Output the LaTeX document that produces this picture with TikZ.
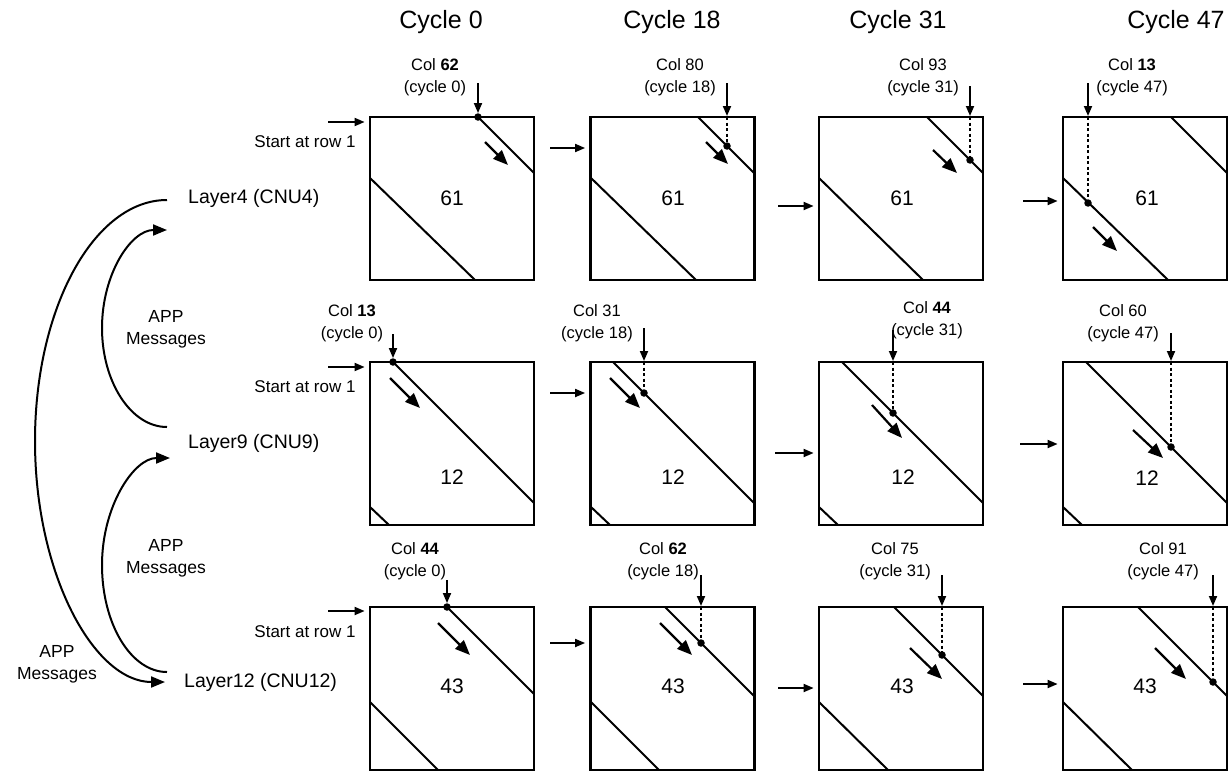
\documentclass[tikz,border=0pt]{standalone}
\usepackage{fontspec}
\setmainfont{Liberation Sans}
\usetikzlibrary{arrows.meta,calc}
\newcommand{\fsTitle}{\fontsize{25}{30}\selectfont}
\newcommand{\fsCol}{\fontsize{16.5}{22}\selectfont}
\newcommand{\fsNum}{\fontsize{21}{25}\selectfont}
\newcommand{\fsLay}{\fontsize{19.5}{23}\selectfont}
\newcommand{\fsApp}{\fontsize{17.5}{22}\selectfont}
\newcommand{\fsStart}{\fontsize{17}{20}\selectfont}
\begin{document}
\begin{tikzpicture}[x=1pt,y=-1pt,
 box/.style={draw,line width=2.8pt,minimum width=164pt,minimum height=163pt,inner sep=0pt},
 diag/.style={line width=2pt},
 harrow/.style={line width=1.8pt,-{Triangle[length=10pt,width=8pt]}},
 varrow/.style={line width=1.8pt,-{Triangle[length=10pt,width=8pt]}},
 inarrow/.style={line width=2.2pt,-{Triangle[length=15pt,width=12pt]}},
 dotn/.style={circle,fill,inner sep=0pt,minimum size=7.5pt},
 dashl/.style={line width=1.6pt,dash pattern=on 3pt off 2.5pt},
 txt/.style={inner sep=0pt,align=center},
 arcarrow/.style={line width=2pt,-{Triangle[length=14pt,width=11pt]}}]
\fill[white] (0,0) rectangle (1230,774);
\useasboundingbox (0,0) rectangle (1230,774);

% titles
\node[txt,font=\fsTitle] (C0) at (441,22) {Cycle 0};
\node[txt,font=\fsTitle] (C18) at (672,22) {Cycle 18};
\node[txt,font=\fsTitle] (C31) at (898,22) {Cycle 31};
\node[txt,font=\fsTitle] (C47) at (1176,22) {Cycle 47};

% boxes
\node[box] (B11) at (452,198.5) {};
\node[box] (B12) at (672.5,198.5) {};
\node[box] (B13) at (901,198.5) {};
\node[box] (B14) at (1145,198.5) {};
\node[box] (B21) at (452,443.5) {};
\node[box] (B22) at (672.5,443.5) {};
\node[box] (B23) at (901,443.5) {};
\node[box] (B24) at (1145,443.5) {};
\node[box] (B31) at (452,688.5) {};
\node[box] (B32) at (672.5,688.5) {};
\node[box] (B33) at (901,688.5) {};
\node[box] (B34) at (1145,688.5) {};

% numbers
\node[txt,font=\fsNum] (N11) at (452,198) {61};
\node[txt,font=\fsNum] (N12) at (673,198) {61};
\node[txt,font=\fsNum] (N13) at (902,198) {61};
\node[txt,font=\fsNum] (N14) at (1147,198) {61};
\node[txt,font=\fsNum] (N21) at (452,477) {12};
\node[txt,font=\fsNum] (N22) at (673,477) {12};
\node[txt,font=\fsNum] (N23) at (903,477) {12};
\node[txt,font=\fsNum] (N24) at (1147,478) {12};
\node[txt,font=\fsNum] (N31) at (452,686) {43};
\node[txt,font=\fsNum] (N32) at (673,686) {43};
\node[txt,font=\fsNum] (N33) at (902,686) {43};
\node[txt,font=\fsNum] (N34) at (1145,686) {43};

% ---------- row 1 ----------
\draw[diag] (478,117) -- (534,173);
\draw[diag] (370,178) -- (475,280);
\draw[diag] (698,117) -- (754,173);
\draw[diag] (591,178) -- (696,280);
\draw[diag] (927,117) -- (983,173);
\draw[diag] (819,178) -- (923,280);
\draw[diag] (1171,117) -- (1227,173);
\draw[diag] (1063,178) -- (1168,280);

\node[txt,font=\fsCol] (L11) at (435,77) {Col \textbf{62}\\(cycle 0)};
\node[txt,font=\fsCol] (L12) at (680,77) {Col 80\\(cycle 18)};
\node[txt,font=\fsCol] (L13) at (923,77) {Col 93\\(cycle 31)};
\node[txt,font=\fsCol] (L14) at (1132,77) {Col \textbf{13}\\(cycle 47)};

\node[dotn] (D11) at (478,117) {};
\node[dotn] (D12) at (727,146) {};
\node[dotn] (D13) at (970,160) {};
\node[dotn] (D14) at (1088,203) {};
\coordinate (T11) at (478,83);
\coordinate (T12) at (727,83);
\coordinate (T13) at (970,86);
\coordinate (T14) at (1088,83);
\draw[varrow] (T11) -- (D11.north);
\draw[varrow] (T12) -- (727,116);
\draw[dashl] (727,117) -- (D12);
\draw[varrow] (T13) -- (970,116);
\draw[dashl] (970,117) -- (D13);
\draw[varrow] (T14) -- (1088,116);
\draw[dashl] (1088,117) -- (D14);

\draw[inarrow] (485,142) -- (508,165);
\draw[inarrow] (706,142) -- (728,164);
\draw[inarrow] (933,150) -- (957,173);
\draw[inarrow] (1093,227) -- (1117,251);

\coordinate (H11) at (328,122);
\coordinate (H12) at (550,148);
\coordinate (H13) at (778,206);
\coordinate (H14) at (1023,201);
\draw[harrow] (H11) -- ([xshift=-4pt]H11 -| B11.west);
\draw[harrow] (H12) -- ([xshift=-4pt]H12 -| B12.west);
\draw[harrow] (H13) -- ([xshift=-4pt]H13 -| B13.west);
\draw[harrow] (H14) -- ([xshift=-4pt]H14 -| B14.west);
\node[txt,font=\fsStart] (S1) at (305,142) {Start at row 1};

% ---------- row 2 ----------
\draw[diag] (393,362) -- (534,503);
\draw[diag] (370,507) -- (389,525);
\draw[diag] (613,362) -- (754,503);
\draw[diag] (591,507) -- (610,525);
\draw[diag] (842,362) -- (983,503);
\draw[diag] (819,507) -- (838,525);
\draw[diag] (1086,362) -- (1227,503);
\draw[diag] (1063,507) -- (1082,525);

\node[txt,font=\fsCol] (L21) at (352,323) {Col \textbf{13}\\(cycle 0)};
\node[txt,font=\fsCol] (L22) at (597,323) {Col 31\\(cycle 18)};
\node[txt,font=\fsCol] (L23) at (927,320) {Col \textbf{44}\\(cycle 31)};
\node[txt,font=\fsCol] (L24) at (1123,323) {Col 60\\(cycle 47)};

\node[dotn] (D21) at (393,362) {};
\node[dotn] (D22) at (644,393) {};
\node[dotn] (D23) at (893,413) {};
\node[dotn] (D24) at (1171,447) {};
\coordinate (T21) at (393,334);
\coordinate (T22) at (644,328);
\coordinate (T23) at (893,330);
\coordinate (T24) at (1171,333);
\draw[varrow] (T21) -- (D21.north);
\draw[varrow] (T22) -- (644,361);
\draw[dashl] (644,362) -- (D22);
\draw[varrow] (T23) -- (893,361);
\draw[dashl] (893,362) -- (D23);
\draw[varrow] (T24) -- (1171,361);
\draw[dashl] (1171,362) -- (D24);

\draw[inarrow] (390,378) -- (420,408);
\draw[inarrow] (610,378) -- (640,408);
\draw[inarrow] (872,405) -- (902,438);
\draw[inarrow] (1133,430) -- (1163,458);

\coordinate (H21) at (328,367);
\coordinate (H22) at (550,393);
\coordinate (H23) at (775,453);
\coordinate (H24) at (1020,444);
\draw[harrow] (H21) -- ([xshift=-4pt]H21 -| B21.west);
\draw[harrow] (H22) -- ([xshift=-4pt]H22 -| B22.west);
\draw[harrow] (H23) -- ([xshift=-4pt]H23 -| B23.west);
\draw[harrow] (H24) -- ([xshift=-4pt]H24 -| B24.west);
\node[txt,font=\fsStart] (S2) at (305,387) {Start at row 1};

% ---------- row 3 ----------
\draw[diag] (447,607) -- (534,694);
\draw[diag] (370,702) -- (438,770);
\draw[diag] (665,607) -- (754,696);
\draw[diag] (591,702) -- (659,770);
\draw[diag] (894,607) -- (983,696);
\draw[diag] (819,702) -- (888,770);
\draw[diag] (1138,607) -- (1227,696);
\draw[diag] (1063,702) -- (1132,770);

\node[txt,font=\fsCol] (L31) at (415,561) {Col \textbf{44}\\(cycle 0)};
\node[txt,font=\fsCol] (L32) at (663,561) {Col \textbf{62}\\(cycle 18)};
\node[txt,font=\fsCol] (L33) at (895,561) {Col 75\\(cycle 31)};
\node[txt,font=\fsCol] (L34) at (1163,561) {Col 91\\(cycle 47)};

\node[dotn] (D31) at (447,607) {};
\node[dotn] (D32) at (701,643) {};
\node[dotn] (D33) at (942,655) {};
\node[dotn] (D34) at (1213,682) {};
\coordinate (T31) at (447,580);
\coordinate (T32) at (701,575);
\coordinate (T33) at (942,575);
\coordinate (T34) at (1213,575);
\draw[varrow] (T31) -- (D31.north);
\draw[varrow] (T32) -- (701,606);
\draw[dashl] (701,607) -- (D32);
\draw[varrow] (T33) -- (942,606);
\draw[dashl] (942,607) -- (D33);
\draw[varrow] (T34) -- (1213,606);
\draw[dashl] (1213,607) -- (D34);

\draw[inarrow] (438,623) -- (470,655);
\draw[inarrow] (660,623) -- (692,655);
\draw[inarrow] (910,648) -- (942,679);
\draw[inarrow] (1155,648) -- (1186,679);

\coordinate (H31) at (328,611);
\coordinate (H32) at (550,643);
\coordinate (H33) at (778,688);
\coordinate (H34) at (1023,684);
\draw[harrow] (H31) -- ([xshift=-4pt]H31 -| B31.west);
\draw[harrow] (H32) -- ([xshift=-4pt]H32 -| B32.west);
\draw[harrow] (H33) -- ([xshift=-4pt]H33 -| B33.west);
\draw[harrow] (H34) -- ([xshift=-4pt]H34 -| B34.west);
\node[txt,font=\fsStart] (S3) at (305,632) {Start at row 1};

% ---------- left side ----------
\node[txt,font=\fsLay,anchor=west] (LY4) at (188,198) {Layer4 (CNU4)};
\node[txt,font=\fsLay,anchor=west] (LY9) at (188,443) {Layer9 (CNU9)};
\node[txt,font=\fsLay,anchor=west] (LY12) at (184,682) {Layer12 (CNU12)};

\node[txt,font=\fsApp] (A1) at (166,329) {APP\\Messages};
\node[txt,font=\fsApp] (A2) at (166,558) {APP\\Messages};
\node[txt,font=\fsApp] (A3) at (57,664) {APP\\Messages};

\coordinate (a1s) at (167,427);
\coordinate (a1e) at (167,230);
\draw[arcarrow] (a1s) .. controls (131,427) and (102,382) .. (102,328)
  .. controls (102,274) and (131,230) .. (a1e);
\coordinate (a2s) at (167,672);
\coordinate (a2e) at (170,458);
\draw[arcarrow] (a2s) .. controls (131,672) and (102,624) .. (102,565)
  .. controls (102,506) and (134,458) .. (a2e);
\coordinate (a3s) at (167,200);
\coordinate (a3e) at (165,682);
\draw[arcarrow] (a3s) .. controls (94,200) and (35,308) .. (35,441)
  .. controls (35,574) and (94,682) .. (a3e);
\end{tikzpicture}
\end{document}
